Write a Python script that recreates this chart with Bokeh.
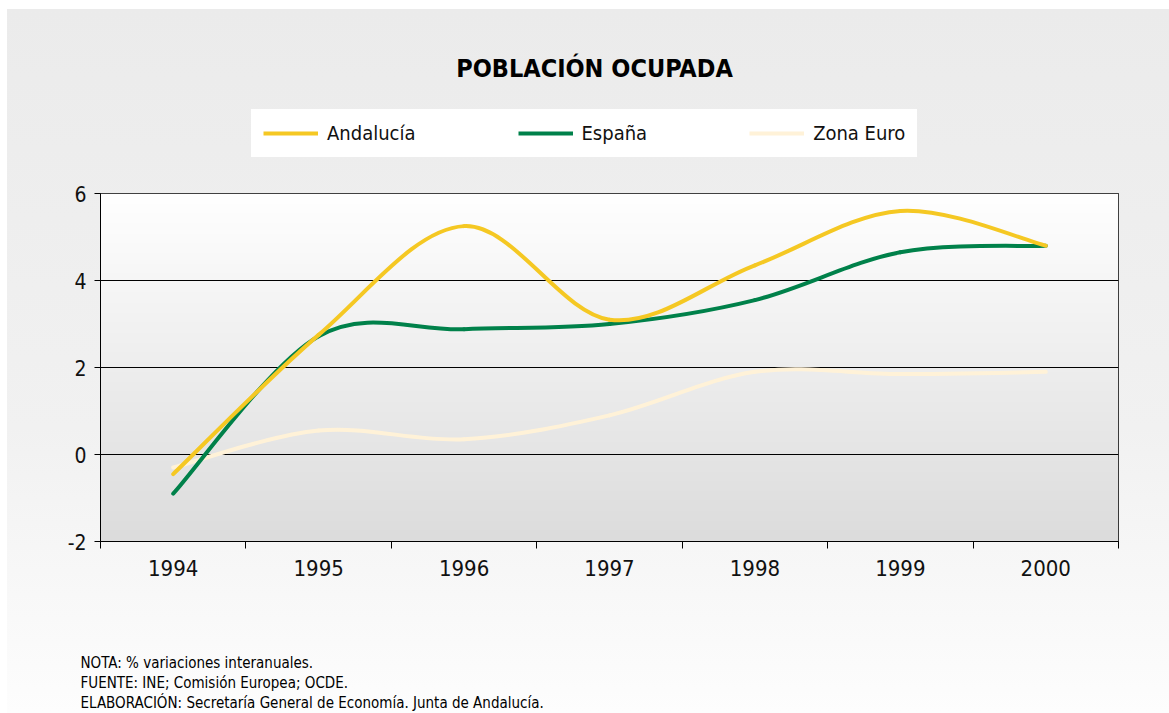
import numpy as np
from bokeh.plotting import figure
from bokeh.layouts import column
from bokeh.models import Legend, LegendItem, Label, FixedTicker, Range1d
from bokeh.embed import file_html
from bokeh.resources import INLINE

# ---------------- data ----------------
years = [1994, 1995, 1996, 1997, 1998, 1999, 2000]
andalucia = [-0.45, 2.75, 5.25, 3.1, 4.35, 5.6, 4.8]
espana = [-0.9, 2.72, 2.88, 3.0, 3.55, 4.65, 4.8]
zona_euro = [-0.3, 0.55, 0.35, 0.9, 1.9, 1.85, 1.9]
y_ticks = [-2, 0, 2, 4, 6]
series_names = ["Andalucía", "España", "Zona Euro"]
series_colors = ["#F5C823", "#00814A", "#FFF2D8"]
title_text = "POBLACIÓN OCUPADA"
notes = [
    "NOTA: % variaciones interanuales.",
    "FUENTE: INE; Comisión Europea; OCDE.",
    "ELABORACIÓN: Secretaría General de Economía. Junta de Andalucía.",
]

FONT = "DejaVu Sans Condensed"
W = 1169
H_TOP, H_MAIN, H_FOOT = 178, 422, 113

x_lo, x_hi = years[0] - 0.5, years[-1] + 0.5
y_lo, y_hi = y_ticks[0], y_ticks[-1]


def blank_fig(h):
    f = figure(width=W, height=h, output_backend="svg", toolbar_location=None,
               x_range=Range1d(0, 1), y_range=Range1d(0, 1),
               x_axis_type=None, y_axis_type=None, min_border=0, title_location=None)
    f.border_fill_color = None
    f.background_fill_color = None
    f.outline_line_color = None
    f.xgrid.visible = False
    f.ygrid.visible = False
    return f


# ---------------- main chart ----------------
p = figure(width=W, height=H_MAIN, output_backend="svg", toolbar_location=None,
           x_range=Range1d(x_lo, x_hi), y_range=Range1d(y_lo, y_hi),
           min_border_left=100, min_border_right=51, min_border_top=15,
           min_border_bottom=59, title_location=None)
p.border_fill_color = None
p.background_fill_color = None
p.outline_line_color = "black"
p.outline_line_width = 1

# plot-area vertical gradient (white top -> grey bottom)
n = 256
t = np.linspace(0.0, 1.0, n)
g = (0xDC + (0xFF - 0xDC) * t).astype(np.uint8)
img = np.zeros((n, 1), dtype=np.uint32)
view = img.view(dtype=np.uint8).reshape((n, 1, 4))
view[:, 0, 0] = g
view[:, 0, 1] = g
view[:, 0, 2] = g
view[:, 0, 3] = 255
p.image_rgba(image=[img], x=x_lo, y=y_lo, dw=x_hi - x_lo, dh=y_hi - y_lo, level="image")

p.xgrid.grid_line_color = None
p.ygrid.ticker = FixedTicker(ticks=y_ticks)
p.ygrid.grid_line_color = "black"
p.ygrid.grid_line_width = 1

xa = p.xaxis[0]
xa.ticker = FixedTicker(ticks=years, minor_ticks=[yr - 0.5 for yr in years] + [years[-1] + 0.5])
xa.major_tick_line_color = None
xa.major_tick_out = 0
xa.major_tick_in = 0
xa.minor_tick_in = 0
xa.minor_tick_out = 7
xa.minor_tick_line_color = "black"
xa.axis_line_color = "black"
xa.major_label_standoff = 11
xa.major_label_text_font = FONT
xa.major_label_text_font_size = "22px"
xa.major_label_text_color = "#111111"

ya = p.yaxis[0]
ya.ticker = FixedTicker(ticks=y_ticks)
ya.major_label_overrides = {v: str(v) for v in y_ticks}
ya.major_tick_in = 0
ya.major_tick_out = 6
ya.minor_tick_line_color = None
ya.major_tick_line_color = "black"
ya.axis_line_color = "black"
ya.major_label_standoff = 8
ya.major_label_text_font = FONT
ya.major_label_text_font_size = "21px"
ya.major_label_text_color = "#111111"


def smooth_segments(xs, ys):
    pts = list(zip(xs, ys))
    m = len(pts)
    out = {k: [] for k in ("x0", "y0", "x1", "y1", "cx0", "cy0", "cx1", "cy1")}
    for i in range(m - 1):
        pm = pts[i - 1] if i > 0 else pts[i]
        a = pts[i]
        b = pts[i + 1]
        pn = pts[i + 2] if i + 2 < m else pts[i + 1]
        out["x0"].append(a[0]); out["y0"].append(a[1])
        out["x1"].append(b[0]); out["y1"].append(b[1])
        out["cx0"].append(a[0] + (b[0] - pm[0]) / 6.0)
        out["cy0"].append(a[1] + (b[1] - pm[1]) / 6.0)
        out["cx1"].append(b[0] - (pn[0] - a[0]) / 6.0)
        out["cy1"].append(b[1] - (pn[1] - a[1]) / 6.0)
    return out


series_values = [andalucia, espana, zona_euro]
for idx in [2, 1, 0]:
    seg = smooth_segments(years, series_values[idx])
    p.bezier(line_color=series_colors[idx], line_width=4, line_cap="round", **seg)

# ---------------- header: title + legend ----------------
top = blank_fig(H_TOP)
top.add_layout(Label(x=594, y=H_TOP - 68, x_units="screen", y_units="screen", text=title_text,
                     text_align="center", text_baseline="alphabetic",
                     text_font=FONT, text_font_style="bold", text_font_size="25px",
                     text_color="black"))
legend_items = []
for i in range(3):
    r = top.line(x=[np.nan], y=[np.nan], line_color=series_colors[i], line_width=4)
    legend_items.append(LegendItem(label=series_names[i], renderers=[r]))
legend = Legend(
    items=legend_items, orientation="horizontal", location=(251, H_TOP - 157),
    background_fill_color="white", background_fill_alpha=1.0,
    border_line_color="white", border_line_width=1, padding=11, spacing=102, margin=0,
    glyph_width=55, glyph_height=20, label_standoff=9,
    label_text_font=FONT, label_text_font_size="20px", label_text_color="#111111",
)
top.add_layout(legend)

# ---------------- footer: notes ----------------
foot = blank_fig(H_FOOT)
for k, line in enumerate(notes):
    foot.add_layout(Label(x=80, y=H_FOOT - (62 + 20 * k), x_units="screen", y_units="screen",
                          text=line, text_align="left", text_baseline="alphabetic",
                          text_font=FONT, text_font_size="15px", text_color="black"))

layout = column(top, column(p, spacing=0), foot, spacing=0)
layout.styles = {"background": "linear-gradient(to right, #ffffff 0px, #ffffff 7px, rgba(255,255,255,0) 7px), "
                               "linear-gradient(to bottom, #ffffff 0px, #ffffff 9px, #ebebeb 9px, #f1f1f1 60%, #fdfdfd 100%)"}

open("out.html", "w").write(file_html(layout, INLINE))
